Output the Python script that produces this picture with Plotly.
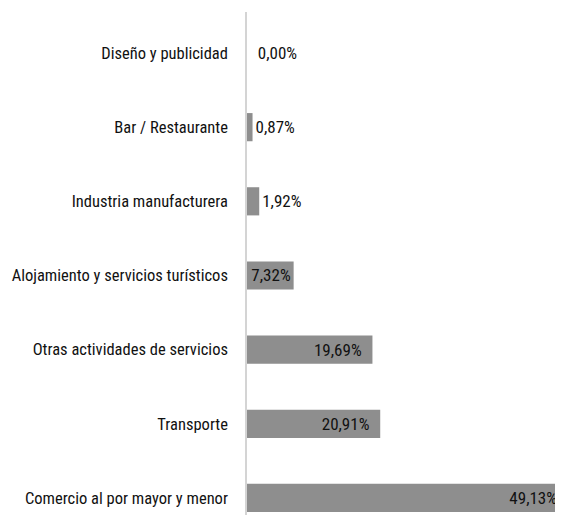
import plotly.graph_objects as go

categories = [
    "Comercio al por mayor y menor",
    "Transporte",
    "Otras actividades de servicios",
    "Alojamiento y servicios turísticos",
    "Industria manufacturera",
    "Bar / Restaurante",
    "Diseño y publicidad",
]
values = [49.13, 20.91, 19.69, 7.32, 1.92, 0.87, 0.00]
text_positions = ["inside", "inside", "inside", "inside", "outside", "outside", "outside"]
text_templates = [
    "%{x:.2f}%",
    "%{x:.2f}%\u00a0\u00a0",
    "%{x:.2f}%\u00a0\u00a0",
    "%{x:.2f}%",
    "%{x:.2f}%",
    "%{x:.2f}%",
    "\u00a0\u00a0%{x:.2f}%",
]

FONT = "Roboto Condensed, Liberation Sans Narrow, Liberation Sans, sans-serif"
FS = 17
TICK_FS = 16.5

fig = go.Figure(
    go.Bar(
        x=values,
        y=categories,
        orientation="h",
        marker=dict(color="#8e8e8e", line=dict(width=0)),
        texttemplate=text_templates,
        textposition=text_positions,
        insidetextanchor="end",
        insidetextfont=dict(color="#111111", size=FS, family=FONT),
        outsidetextfont=dict(color="#111111", size=FS, family=FONT),
        cliponaxis=False,
        width=0.38,
    )
)

# page body has an 8px offset, so the figure is sized to end at the window edge
fig.update_layout(
    width=555,
    height=507,
    margin=dict(l=239, r=0, t=4, b=0),
    paper_bgcolor="white",
    plot_bgcolor="white",
    separators=",.",
    showlegend=False,
    font=dict(family=FONT, size=FS, color="#111111"),
    uniformtext=dict(minsize=FS, mode="show"),
)
fig.update_xaxes(
    range=[0, 49.6],
    automargin=False,
    showgrid=False,
    zeroline=False,
    showticklabels=False,
    showline=False,
)
fig.update_yaxes(
    type="category",
    range=[-0.23, 6.553],
    automargin=False,
    showgrid=False,
    zeroline=False,
    showline=True,
    linecolor="#d4d4d4",
    linewidth=1.5,
    ticks="",
    ticklabelstandoff=14,
    tickfont=dict(family=FONT, size=TICK_FS, color="#111111"),
)

fig.write_html("out.html")
